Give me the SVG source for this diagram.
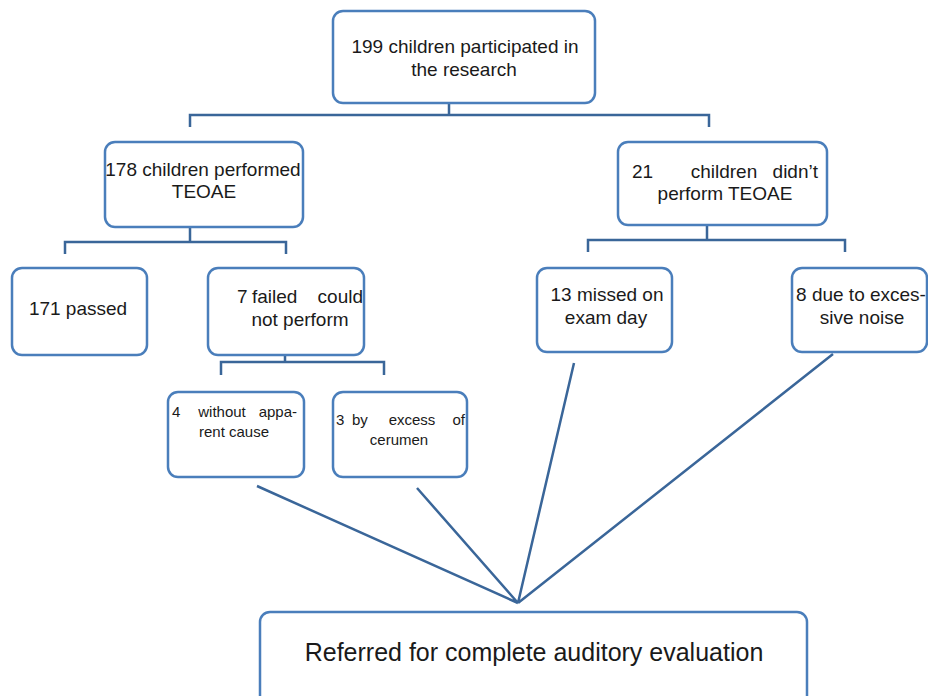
<svg xmlns="http://www.w3.org/2000/svg" width="928" height="696" viewBox="0 0 928 696">
<style>
.box{fill:#fff;stroke:#4a7ebb;stroke-width:2.5}
.ln{fill:none;stroke:#3a6699;stroke-width:2.5}
text{font-family:"Liberation Sans",Arial,sans-serif;fill:#1a1a1a}
.t19{font-size:19px}
.t15{font-size:15px}
.t25{font-size:25px}
</style>
<rect width="928" height="696" fill="#fff"/>
<g id="connectors">
<path class="ln" d="M449,103V115M190,127V115H709V127"/>
<path class="ln" d="M190,227V242M65,254V242H286V254"/>
<path class="ln" d="M707,225V240M588,252V240H845V252"/>
<path class="ln" d="M285,355V362M221,375V362H384V375"/>
<path class="ln" d="M257,486L518,603M417,488L518,603M574,363L518,603M833,354L518,603"/>
</g>
<g id="n199">
<rect class="box" x="333" y="11" width="262" height="92" rx="10"/>
<text class="t19" x="465" y="53" text-anchor="middle">199 children participated in</text>
<text class="t19" x="464" y="76" text-anchor="middle">the research</text>
</g>
<g id="n178">
<rect class="box" x="105" y="142" width="198" height="85" rx="10"/>
<text class="t19" x="203" y="176" text-anchor="middle">178 children performed</text>
<text class="t19" x="204" y="198" text-anchor="middle">TEOAE</text>
</g>
<g id="n21">
<rect class="box" x="618" y="142" width="209" height="83" rx="10"/>
<text class="t19" y="178"><tspan x="632">21</tspan><tspan x="724" text-anchor="middle">children</tspan><tspan x="818" text-anchor="end">didn’t</tspan></text>
<text class="t19" x="725" y="200" text-anchor="middle">perform TEOAE</text>
</g>
<g id="n171">
<rect class="box" x="12" y="268" width="135" height="87" rx="10"/>
<text class="t19" x="78" y="315" text-anchor="middle">171 passed</text>
</g>
<g id="n7">
<rect class="box" x="208" y="268" width="156" height="87" rx="10"/>
<text class="t19" y="303"><tspan x="237">7</tspan><tspan x="252">failed</tspan><tspan x="363" text-anchor="end">could</tspan></text>
<text class="t19" x="300" y="326" text-anchor="middle">not perform</text>
</g>
<g id="n13">
<rect class="box" x="537" y="268" width="135" height="84" rx="10"/>
<text class="t19" x="607" y="301" text-anchor="middle">13 missed on</text>
<text class="t19" x="606" y="324" text-anchor="middle">exam day</text>
</g>
<g id="n8">
<rect class="box" x="792" y="268" width="135" height="84" rx="10"/>
<text class="t19" x="861" y="301" text-anchor="middle">8 due to exces-</text>
<text class="t19" x="862" y="324" text-anchor="middle">sive noise</text>
</g>
<g id="n4">
<rect class="box" x="168" y="392" width="136" height="85" rx="10"/>
<text class="t15" y="417"><tspan x="172">4</tspan><tspan x="222" text-anchor="middle">without</tspan><tspan x="297" text-anchor="end">appa-</tspan></text>
<text class="t15" x="234" y="437" text-anchor="middle">rent cause</text>
</g>
<g id="n3">
<rect class="box" x="333" y="392" width="134" height="85" rx="10"/>
<text class="t15" y="425"><tspan x="336">3</tspan><tspan x="352">by</tspan><tspan x="412" text-anchor="middle">excess</tspan><tspan x="465" text-anchor="end">of</tspan></text>
<text class="t15" x="399" y="445" text-anchor="middle">cerumen</text>
</g>
<g id="nref">
<rect class="box" x="260" y="612" width="547" height="100" rx="10"/>
<text class="t25" x="534" y="661" text-anchor="middle">Referred for complete auditory evaluation</text>
</g>
</svg>
